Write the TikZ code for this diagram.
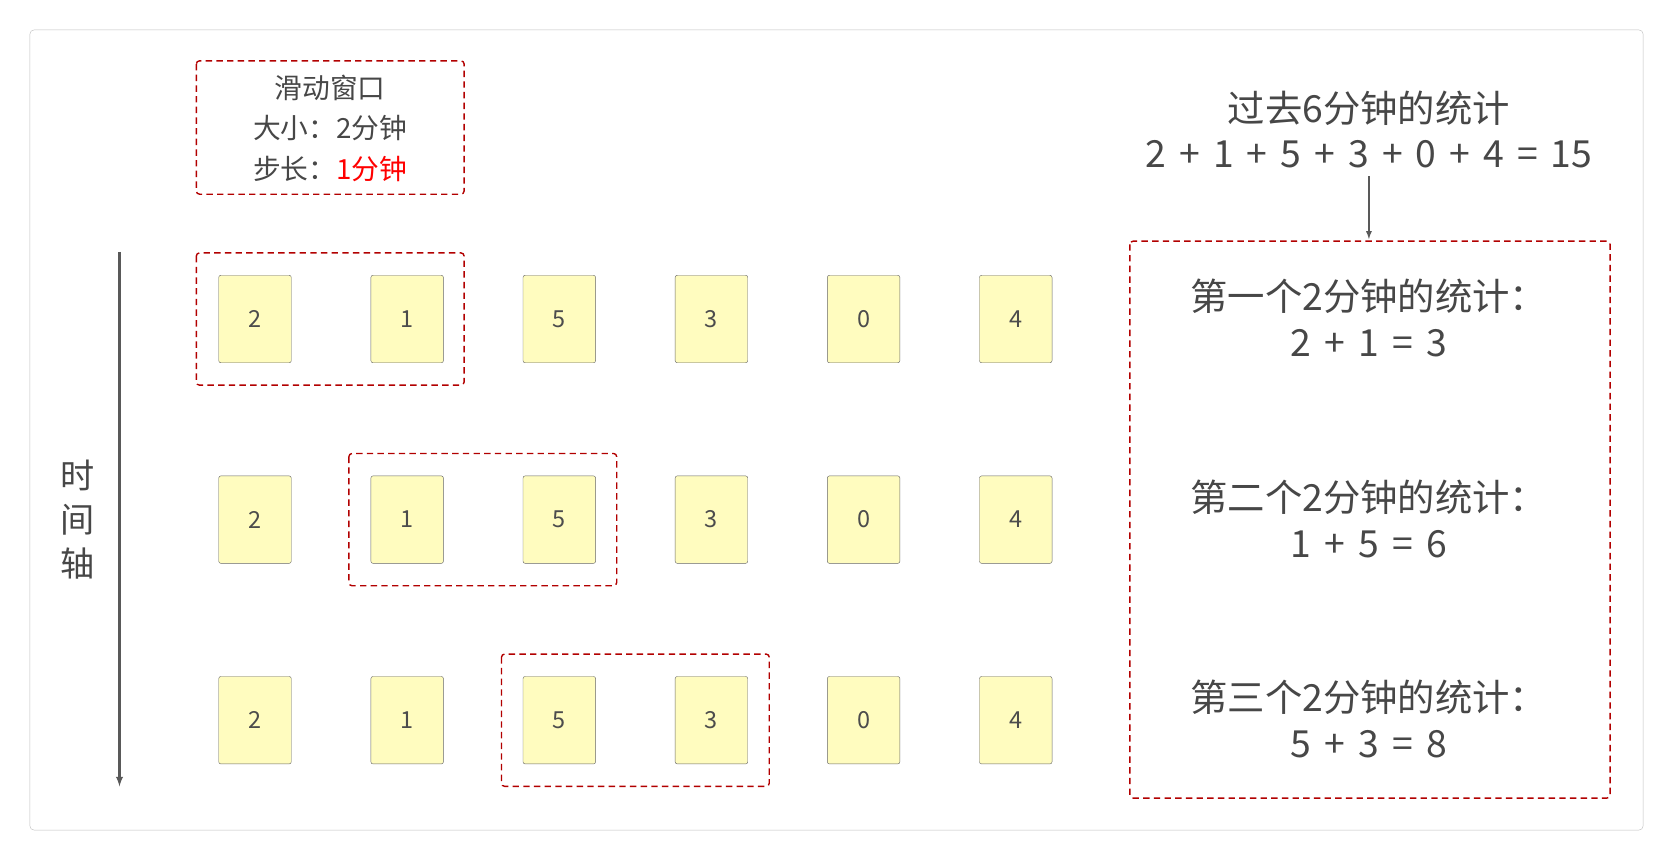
\documentclass[tikz,border=0pt]{standalone}
\usepackage{fontspec}
\setmainfont{Noto Sans CJK SC}
\newcommand{\pl}{\hspace{0.35em}+\hspace{0.35em}}
\newcommand{\eqq}{\hspace{0.35em}=\hspace{0.35em}}
\begin{document}
\begin{tikzpicture}[x=1pt,y=-1pt,
 card/.style={draw=black!60,fill=yellow!25,rounded corners=2pt,minimum width=68pt,minimum height=82pt,inner sep=0,font=\fontsize{22}{24}\selectfont,text=black!70},
 win/.style={draw=red!70!black,dash pattern=on 6pt off 4pt,line width=1.3pt,rounded corners=3pt},
 txt/.style={text=black!72,align=center}]
\useasboundingbox (0,0) rectangle (1568,807);
\draw[black!25,rounded corners=4pt] (28,28) rectangle (1540,778);
\foreach \r/\y in {1/299,2/487,3/675}{
 \foreach \v [count=\i] in {2,1,5,3,0,4}{
  \node[card] (c\r\i) at ({239+142.6*(\i-1)},\y) {\v};}}
\draw[win] (184,57) rectangle (435,182);
\node[txt,font=\fontsize{26}{38}\selectfont] (legend) at (309.5,120) {滑动窗口\\大小：2分钟\\步长：{\color{red}1分钟}};
\draw[win] (184,237) rectangle (435,361);
\draw[win] (327,425) rectangle (578,549);
\draw[win] (470,613) rectangle (721,737);
\draw[win] (1059,226) rectangle (1509,748);
\coordinate (ta) at (112,236); \coordinate (tb) at (112,737);
\draw[black!65,line width=2pt,-latex] (ta) -- (tb);
\node[txt,font=\fontsize{32}{41}\selectfont] (axis) at (73,487) {时\\间\\轴};
\node[txt,font=\fontsize{35}{42}\selectfont] (tot) at (1283,121) {过去6分钟的统计\\2\pl1\pl5\pl3\pl0\pl4\eqq15};
\coordinate (ra) at (1283,165); \coordinate (rb) at (1283,224);
\draw[black!65,line width=1.5pt,-latex] (ra) -- (rb);
\foreach \n/\t/\e/\y in {s1/一/2\pl1\eqq3/298,s2/二/1\pl5\eqq6/486,s3/三/5\pl3\eqq8/674}
 \node[txt,font=\fontsize{35}{43}\selectfont] (\n) at (1283,\y) {第\t 个2分钟的统计：\\\e};
\end{tikzpicture}
\end{document}
